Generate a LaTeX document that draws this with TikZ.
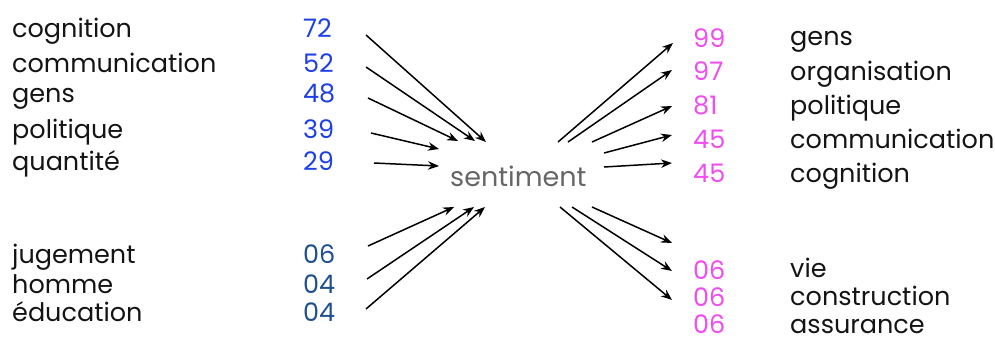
\documentclass[tikz,border=0pt]{standalone}
\usepackage{fontspec}
\setmainfont{Poppins}[Ligatures=NoCommon]
\usetikzlibrary{arrows.meta}
\definecolor{numblue}{HTML}{1F3FE6}
\definecolor{numdark}{HTML}{1E4F8F}
\definecolor{nummag}{HTML}{F04CF0}
\definecolor{centgray}{HTML}{666666}
\tikzset{
  word/.style={inner sep=0pt, anchor=base west, font=\fontsize{25.5}{30}\selectfont, text=black!92},
  numb/.style={word, text=numblue},
  numd/.style={word, text=numdark},
  numm/.style={word, text=nummag},
  centre/.style={word, text=centgray, font=\fontsize{27}{30}\selectfont},
  arr/.style={line width=1.5pt, -{Stealth[length=11pt,width=8.5pt]}}
}
\begin{document}
\begin{tikzpicture}[x=1pt,y=-1pt]
\useasboundingbox (0,0) rectangle (995,340);
% left words
\node[word] (lw1) at (12,37) {cognition};
\node[word] (lw2) at (12,72) {communication};
\node[word] (lw3) at (12,102) {gens};
\node[word] (lw4) at (12,138) {politique};
\node[word] (lw5) at (12,170) {quantité};
\node[word] (lw6) at (12,263) {jugement};
\node[word] (lw7) at (12,293) {homme};
\node[word] (lw8) at (12,321) {éducation};
% left numbers
\node[numb] (ln1) at (303,37) {72};
\node[numb] (ln2) at (303,72) {52};
\node[numb] (ln3) at (303,102) {48};
\node[numb] (ln4) at (303,138) {39};
\node[numb] (ln5) at (303,170) {29};
\node[numd] (ln6) at (303,263) {06};
\node[numd] (ln7) at (303,293) {04};
\node[numd] (ln8) at (303,321) {04};
% centre
\node[centre] (c) at (450,186) {sentiment};
% right numbers
\node[numm] (rn1) at (693,47) {99};
\node[numm] (rn2) at (693,80) {97};
\node[numm] (rn3) at (693,114) {81};
\node[numm] (rn4) at (693,148) {45};
\node[numm] (rn5) at (693,182) {45};
\node[numm] (rn6) at (693,279) {06};
\node[numm] (rn7) at (693,306) {06};
\node[numm] (rn8) at (693,333) {06};
% right words
\node[word] (rw1) at (790,45) {gens};
\node[word] (rw2) at (790,80) {organisation};
\node[word] (rw3) at (790,114) {politique};
\node[word] (rw4) at (790,148) {communication};
\node[word] (rw5) at (790,182) {cognition};
\node[word] (rw6) at (790,277) {vie};
\node[word] (rw7) at (790,305) {construction};
\node[word] (rw8) at (790,333) {assurance};
% arrow end points
\coordinate (a1s) at (366,35);  \coordinate (a1e) at (486,142);
\coordinate (a2s) at (366,67);  \coordinate (a2e) at (475,141);
\coordinate (a3s) at (368,98);  \coordinate (a3e) at (458,141);
\coordinate (a4s) at (371,133); \coordinate (a4e) at (439,149);
\coordinate (a5s) at (374,163); \coordinate (a5e) at (439,166);
\coordinate (b1s) at (368,246); \coordinate (b1e) at (454,207);
\coordinate (b2s) at (367,279); \coordinate (b2e) at (474,207);
\coordinate (b3s) at (366,309); \coordinate (b3e) at (485,207);
\coordinate (c1s) at (558,142); \coordinate (c1e) at (673,43);
\coordinate (c2s) at (568,142); \coordinate (c2e) at (672,70);
\coordinate (c3s) at (592,142); \coordinate (c3e) at (672,106);
\coordinate (c4s) at (604,153); \coordinate (c4e) at (672,135);
\coordinate (c5s) at (604,167); \coordinate (c5e) at (672,163);
\coordinate (d1s) at (592,207); \coordinate (d1e) at (672,243);
\coordinate (d2s) at (572,207); \coordinate (d2e) at (672,271);
\coordinate (d3s) at (560,207); \coordinate (d3e) at (672,300);
\foreach \p in {a1,a2,a3,a4,a5,b1,b2,b3,c1,c2,c3,c4,c5,d1,d2,d3}
  \draw[arr] (\p s) -- (\p e);
\end{tikzpicture}
\end{document}
